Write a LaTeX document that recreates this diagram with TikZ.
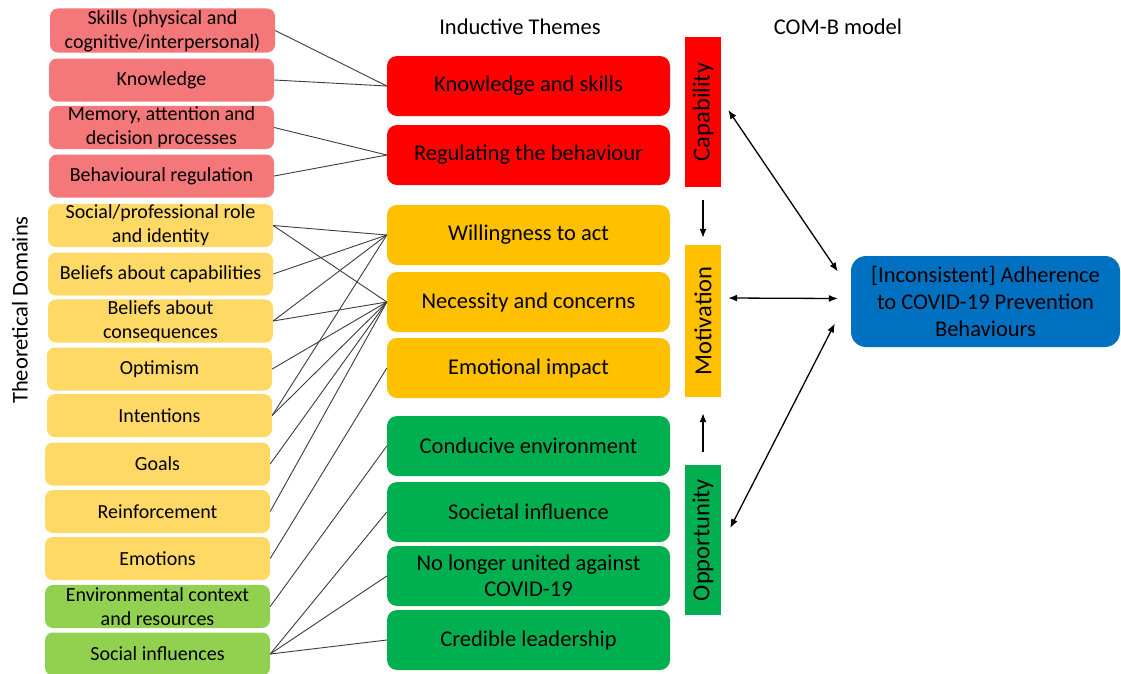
\documentclass[tikz,border=0pt]{standalone}
\usepackage{fontspec}
\setmainfont{Carlito}
\usetikzlibrary{arrows.meta,calc}

\definecolor{domred}{RGB}{244,119,122}
\definecolor{domyellow}{RGB}{255,217,102}
\definecolor{domgreen}{RGB}{146,208,80}
\definecolor{themered}{RGB}{255,0,0}
\definecolor{themeorange}{RGB}{255,192,0}
\definecolor{themegreen}{RGB}{0,176,80}
\definecolor{outcomeblue}{RGB}{0,112,192}
\definecolor{linkgrey}{RGB}{60,60,60}

\tikzset{
  tdbox/.style={rounded corners=8pt, minimum width=225pt, minimum height=43pt,
    align=center, inner sep=1pt, font=\fontsize{20}{24}\selectfont},
  themebox/.style={rounded corners=10pt, minimum width=283pt, minimum height=60pt,
    align=center, inner sep=1pt, font=\fontsize{22.5}{26}\selectfont},
  combbar/.style={minimum width=36pt, minimum height=150pt, inner sep=0pt},
  bartext/.style={rotate=90, font=\fontsize{24.5}{26}\selectfont},
  heading/.style={font=\fontsize{22.5}{26}\selectfont},
  link/.style={draw=linkgrey, line width=0.9pt},
  combarrow/.style={line width=1.3pt, >={Latex[length=9pt,width=7pt]}},
}

\begin{document}
\begin{tikzpicture}[x=1pt,y=-1pt]
  \useasboundingbox (0,0) rectangle (1121,673);

  % headings
  \node[heading] (thead) at (520,27) {Inductive Themes};
  \node[heading] (chead) at (838,27) {COM-B model};
  \node[heading, rotate=90] (dhead) at (20,310) {Theoretical Domains};

  % theoretical domains (left column)
  \node[tdbox, fill=domred] (skills) at (162.5,30.5) {Skills (physical and\\cognitive/interpersonal)};
  \node[tdbox, fill=domred] (know) at (161.5,80) {Knowledge};
  \node[tdbox, fill=domred] (memory) at (161.5,127.5) {Memory, attention and\\decision processes};
  \node[tdbox, fill=domred] (behreg) at (161.5,176) {Behavioural regulation};
  \node[tdbox, fill=domyellow] (role) at (160.5,225.5) {Social/professional role\\and identity};
  \node[tdbox, fill=domyellow] (bcap) at (160.5,274) {Beliefs about capabilities};
  \node[tdbox, fill=domyellow] (bcons) at (160.5,321) {Beliefs about\\consequences};
  \node[tdbox, fill=domyellow] (optim) at (159.5,369) {Optimism};
  \node[tdbox, fill=domyellow] (intent) at (159.5,415.5) {Intentions};
  \node[tdbox, fill=domyellow] (goals) at (157.5,464) {Goals};
  \node[tdbox, fill=domyellow] (reinf) at (157.5,511.5) {Reinforcement};
  \node[tdbox, fill=domyellow] (emot) at (157.5,558.5) {Emotions};
  \node[tdbox, fill=domgreen] (envctx) at (157.5,606.5) {Environmental context\\and resources};
  \node[tdbox, fill=domgreen] (socinf) at (157.5,654) {Social influences};

  % inductive themes (middle column)
  \node[themebox, fill=themered] (ks) at (528.5,86) {Knowledge and skills};
  \node[themebox, fill=themered] (regbeh) at (528.5,155) {Regulating the behaviour};
  \node[themebox, fill=themeorange] (will) at (528.5,235) {Willingness to act};
  \node[themebox, fill=themeorange] (necess) at (528.5,302) {Necessity and concerns};
  \node[themebox, fill=themeorange] (emimp) at (528.5,368) {Emotional impact};
  \node[themebox, fill=themegreen] (conduc) at (528.5,446) {Conducive environment};
  \node[themebox, fill=themegreen] (societ) at (528.5,512) {Societal influence};
  \node[themebox, fill=themegreen] (united) at (528.5,576) {No longer united against\\COVID-19};
  \node[themebox, fill=themegreen] (leader) at (528.5,640) {Credible leadership};

  % COM-B bars
  \node[combbar, fill=themered] (cap) at (703,112) {};
  \node[bartext] (captext) at (cap) {Capability};
  \node[combbar, fill=themeorange, minimum height=152pt] (mot) at (703,321) {};
  \node[bartext] (mottext) at (mot) {Motivation};
  \node[combbar, fill=themegreen] (opp) at (703,540) {};
  \node[bartext] (opptext) at (opp) {Opportunity};

  % outcome
  \node[rounded corners=15pt, fill=outcomeblue, minimum width=269pt, minimum height=91pt,
    align=center, font=\fontsize{22.5}{27}\selectfont] (adh) at (985.5,301.5)
    {[Inconsistent] Adherence\\to COVID-19 Prevention\\Behaviours};

  % domain to theme links
  \draw[link] (skills.east) -- (ks.west);
  \draw[link] (know.east) -- (ks.west);
  \draw[link] (memory.east) -- (regbeh.west);
  \draw[link] (behreg.east) -- (regbeh.west);
  \foreach \d in {role,bcap,bcons,intent}
    \draw[link] (\d.east) -- (will.west);
  \foreach \d in {role,bcons,optim,intent,goals,reinf}
    \draw[link] (\d.east) -- (necess.west);
  \draw[link] (emot.east) -- (emimp.west);
  \draw[link] (envctx.east) -- (conduc.west);
  \foreach \t in {societ,united,leader}
    \draw[link] (socinf.east) -- (\t.west);

  % COM-B arrows
  \draw[combarrow, ->, shorten <=13pt, shorten >=7pt] (cap.south) -- (mot.north);
  \draw[combarrow, ->, shorten <=13pt, shorten >=16pt] (opp.north) -- (mot.south);
  \draw[combarrow, <->] ($(cap.east)+(7,-2)$) -- ($(adh.west)+(-13,-30)$);
  \draw[combarrow, <->] ($(mot.east)+(7,-23)$) -- ($(adh.west)+(-13,-3)$);
  \draw[combarrow, <->] ($(opp.east)+(9,-12)$) -- ($(adh.west)+(-16,22)$);
\end{tikzpicture}
\end{document}
